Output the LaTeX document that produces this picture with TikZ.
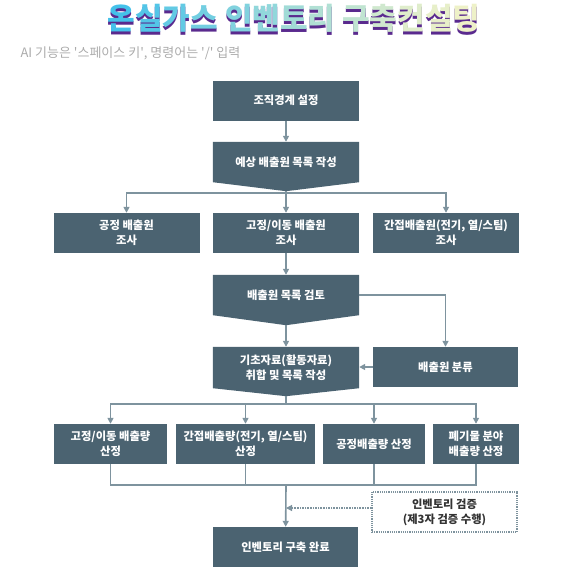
\documentclass[tikz,border=0pt]{standalone}
\usepackage{fontspec}
\setmainfont{Noto Sans CJK KR}
\usetikzlibrary{arrows.meta, calc, backgrounds}
\definecolor{boxfill}{HTML}{4B6371}
\definecolor{linkline}{HTML}{7E939E}
\definecolor{titlecyan}{HTML}{44C1EA}
\definecolor{titlecream}{HTML}{EEF1C8}
\definecolor{titleshadow}{HTML}{5A2A8E}
\definecolor{subgray}{HTML}{ABABAB}
% one title syllable, coloured along the gradient
\newcommand\tc[2]{{\color{titlecream!#1!titlecyan}#2}}
% box with a point at the bottom: node name, depth of the point
\newcommand\pointbox[2]{%
\begin{pgfonlayer}{background}
    \fill [boxfill] (#1.north west) -- (#1.north east) -- (#1.south east)
      -- ($(#1.south)+(0,-#2)$) -- (#1.south west) -- cycle;
    \coordinate (#1tip) at ($(#1.south)+(0,-#2)$);
\end{pgfonlayer}
}

\begin{document}
\begin{tikzpicture}[x=1pt, y=1pt,
    boxtext/.style={text=white, font=\bfseries\fontsize{11.3}{15}\selectfont,
      align=center, inner sep=0, minimum height=40},
    box/.style={boxtext, fill=boxfill},
    dotbox/.style={draw=linkline, densely dotted, line width=1.2, text=black!80,
      font=\bfseries\fontsize{11.3}{15}\selectfont, align=center, inner sep=0, minimum height=40},
    link/.style={draw=linkline, line width=1.6},
    tip/.style={-{Triangle[length=6pt, width=6pt]}},
    twotip/.style={{Triangle[length=6pt, width=6pt]}-{Triangle[length=6pt, width=6pt]}},
    titlefont/.style={font=\bfseries\fontsize{30}{30}\selectfont}]

\useasboundingbox (0,0) rectangle (588,-568);

% Title
\node [titlefont, text=titleshadow] (titleback) at (294,-21.5) {온실가스 인벤토리 구축컨설팅};
\node [titlefont] (title) at (294,-18.5) {\tc{0}{온}\tc{9}{실}\tc{18}{가}\tc{27}{스}
  \tc{36}{인}\tc{45}{벤}\tc{55}{토}\tc{64}{리}
  \tc{73}{구}\tc{82}{축}\tc{91}{컨}\tc{96}{설}\tc{100}{팅}};
\node [anchor=west, text=subgray, font=\fontsize{13}{13}\selectfont] (hint) at (17,-53)
  {AI 기능은 \textquotesingle 스페이스 키\textquotesingle, 명령어는 \textquotesingle/\textquotesingle\ 입력};

% Boxes
\node [box, minimum width=146] (boundary) at (286,-100.5) {조직경계 설정};
\node [boxtext, minimum width=146] (expected) at (286,-162) {예상 배출원 목록 작성};
\pointbox{expected}{9}

\node [box, minimum width=146] (process)  at (126.5,-233) {공정 배출원\\조사};
\node [box, minimum width=146] (mobile)   at (286,-233)   {고정/이동 배출원\\조사};
\node [box, minimum width=146] (indirect) at (446,-233)   {간접배출원(전기, 열/스팀)\\조사};

\node [boxtext, minimum width=146] (review) at (286,-295) {배출원 목록 검토};
\pointbox{review}{10}
\node [box, minimum width=145] (classify) at (445.5,-367) {배출원 분류};
\node [boxtext, minimum width=146, minimum height=41] (basedata) at (286,-367.5)
  {기초자료(활동자료)\\취합 및 목록 작성};
\pointbox{basedata}{8}

\node [box, minimum width=113] (calcmobile)   at (110.5,-444) {고정/이동 배출량\\산정};
\node [box, minimum width=139] (calcindirect) at (245.5,-444) {간접배출량(전기, 열/스팀)\\산정};
\node [box, minimum width=102] (calcprocess)  at (374,-444)   {공정배출량 산정};
\node [box, minimum width=86]  (calcwaste)    at (476,-444)   {폐기물 분야\\배출량 산정};

\node [dotbox, minimum width=145] (verify) at (444.5,-512) {인벤토리 검증\\(제3자 검증 수행)};
\node [box, minimum width=145] (done) at (285.5,-547) {인벤토리 구축 완료};

% Links
\coordinate (fork1) at (286,-193);
\coordinate (fork2) at (286,-404);
\coordinate (join)  at (286,-485);

\draw [link, tip] (boundary) -- (expected);
\draw [link] (expectedtip) -- (fork1);
\draw [link, twotip] (process.north) |- (fork1) -| (indirect.north);
\draw [link, tip] (fork1) -- (mobile);
\draw [link, tip] (mobile) -- (review);

\draw [link, tip] (review.east) -| (classify.north);
\draw [link, tip] (reviewtip) -- (basedata);
\draw [link, tip] (classify.west) -- (classify.west -| basedata.east);

\draw [link] (basedatatip) -- (fork2);
\draw [link, twotip] (calcmobile.north) |- (fork2) -| (calcwaste.north);
\draw [link, tip] (fork2 -| calcindirect) -- (calcindirect);
\draw [link, tip] (fork2 -| calcprocess) -- (calcprocess);

\draw [link] (calcmobile.south) |- (join) -| (calcwaste.south);
\draw [link] (calcindirect.south) -- (calcindirect.south |- join);
\draw [link] (calcprocess.south) -- (calcprocess.south |- join);
\draw [link, tip] (join) -- (done);

\coordinate (verifyout) at ($(verify.west)+(0,4)$);
\draw [link, densely dotted, line width=1.2, tip] (verifyout) -- (verifyout -| join);

\end{tikzpicture}
\end{document}
